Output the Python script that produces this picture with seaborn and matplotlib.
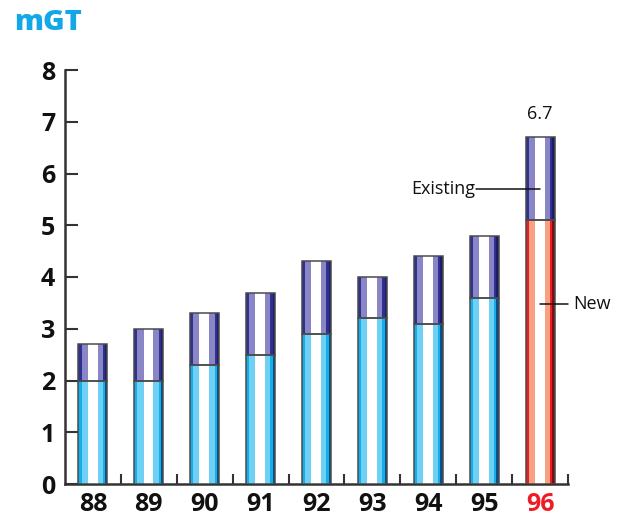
import matplotlib
matplotlib.use("Agg")
import matplotlib.pyplot as plt
import seaborn as sns
import numpy as np
from matplotlib.patches import Rectangle

# Tonnage by year (mGT): new vs existing, stacked
years = ["88", "89", "90", "91", "92", "93", "94", "95", "96"]
new_vals = [2.0, 2.0, 2.3, 2.5, 2.9, 3.2, 3.1, 3.6, 5.1]
existing_vals = [0.7, 1.0, 1.0, 1.2, 1.4, 0.8, 1.3, 1.2, 1.6]
totals = [round(n + e, 1) for n, e in zip(new_vals, existing_vals)]
y_ticks = [0, 1, 2, 3, 4, 5, 6, 7, 8]

sns.set_theme(style="white")
plt.rcParams["font.family"] = ["Open Sans", "DejaVu Sans"]

# colour schemes for the striped "tube" bars: (outer, band, inner, right edge)
cyan = ("#16aee9", "#6fd0f6", "#ffffff", "#0a4f86")
red = ("#ee1c25", "#f9a083", "#ffffff", "#7a0f14")
purple = ("#2f3192", "#8a85c4", "#ffffff", "#1c1d66")

fig = plt.figure(figsize=(6.22, 5.18), dpi=100)
ax = fig.add_axes([65 / 622, 34 / 518, 503 / 622, 414 / 518])

bar_w = 0.52
sns.barplot(x=years, y=totals, color=purple[0], width=bar_w, saturation=1,
            linewidth=0, ax=ax)
new_palette = [cyan[0]] * (len(years) - 1) + [red[0]]
sns.barplot(x=years, y=new_vals, hue=years, palette=new_palette, legend=False,
            width=bar_w, saturation=1, linewidth=0, ax=ax)

# stripe fractions across the bar width
stripes = [(0.0, 0.11, 0), (0.11, 0.32, 1), (0.32, 0.66, 2), (0.66, 0.84, 1),
           (0.84, 0.92, 0), (0.92, 1.0, 3)]

patches = list(ax.patches)
n = len(years)
for i, p in enumerate(patches):
    x0, w = p.get_x(), p.get_width()
    y0, h = p.get_y(), p.get_height()
    if i < n:
        # top (existing) segment starts where the new segment ends
        y0 = new_vals[i]
        h = totals[i] - new_vals[i]
        scheme = purple
    else:
        scheme = red if years[i - n] == "96" else cyan
    for a, b, c in stripes:
        ax.add_patch(Rectangle((x0 + a * w, y0), (b - a) * w, h,
                               facecolor=scheme[c], edgecolor="none", zorder=3))
    ax.add_patch(Rectangle((x0, y0), w, h, facecolor="none",
                           edgecolor="#4a4a4a", linewidth=1.1, zorder=4))

ax.set_xlim(-0.5, len(years) - 0.5)
ax.set_ylim(0, 8)
ax.set_yticks(y_ticks)
ax.set_yticklabels([str(t) for t in y_ticks], fontsize=18, fontweight="bold")
ax.set_xticks(range(len(years)))
ax.set_xticklabels(years, fontsize=18, fontweight="bold")
ax.set_xticks(np.arange(0.5, len(years), 1.0), minor=True)
ax.set_xlabel("")
ax.set_ylabel("")

for s in ["top", "right"]:
    ax.spines[s].set_visible(False)
for s in ["left", "bottom"]:
    ax.spines[s].set_color("#333333")
    ax.spines[s].set_linewidth(1.8)
ax.tick_params(axis="y", direction="in", length=9, width=1.5, color="#333333",
               pad=7, left=True, labelcolor="#111111")
ax.tick_params(axis="x", which="major", length=0, pad=6, labelcolor="#111111")
ax.tick_params(axis="x", which="minor", direction="in", length=7, width=1.5,
               color="#333333", bottom=True)
ax.get_xticklabels()[-1].set_color("#ee1c25")

# annotations on the last bar
last = len(years) - 1
ax.text(last, totals[last] + 0.27, f"{totals[last]}", ha="center", va="bottom",
        fontsize=13, color="#111111")
y_ex = 5.70
ax.plot([6.86, last], [y_ex, y_ex], color="#111111", linewidth=1.1, zorder=5,
        clip_on=False)
ax.text(6.84, y_ex, "Existing", ha="right", va="center", fontsize=13,
        color="#111111")
y_new = 3.48
ax.plot([last, last + 0.5], [y_new, y_new], color="#111111", linewidth=1.1,
        zorder=5, clip_on=False)
ax.text(last + 0.6, y_new, "New", ha="left", va="center", fontsize=13,
        color="#111111")

fig.text(14 / 622, 1 - 8 / 518, "mGT", ha="left", va="top", fontsize=21,
         fontweight=800, color="#12a8e8")

fig.savefig("out.png", dpi=100)
